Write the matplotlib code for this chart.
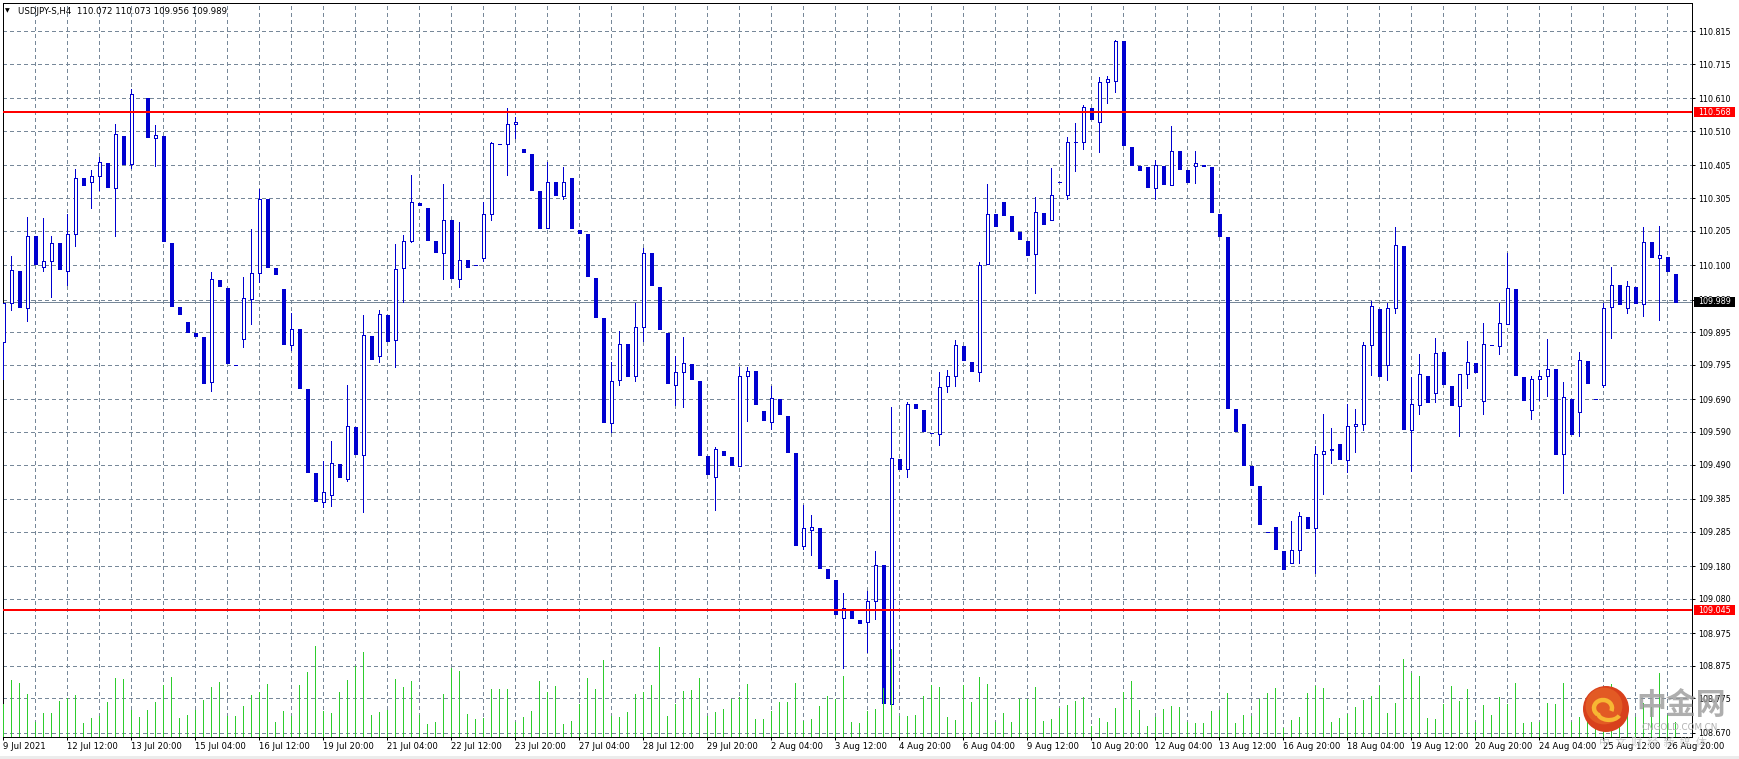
import matplotlib
matplotlib.use("Agg")
import matplotlib.pyplot as plt
import numpy as np
from matplotlib.patches import Rectangle, Ellipse, Arc

# ---------------- data ----------------
title_text = "USDJPY-S,H4  110.072 110.073 109.956 109.989"

opens = [109.865, 109.983, 110.081, 109.970, 110.189, 110.095, 110.113, 110.167, 110.081, 110.196,
         110.366, 110.355, 110.373, 110.412, 110.337, 110.496, 110.411, 110.568, 110.611, 110.490,
         110.496, 110.167, 109.971, 109.927, 109.894, 109.879, 109.742, 110.055, 110.030, 109.795,
         109.873, 109.997, 110.075, 110.303, 110.091, 110.028, 109.857, 109.905, 109.722, 109.463,
         109.375, 109.396, 109.493, 109.447, 109.604, 109.519, 109.885, 109.822, 109.948, 109.871,
         110.090, 110.173, 110.291, 110.275, 110.175, 110.136, 110.239, 110.059, 110.116, 110.100,
         110.123, 110.258, 110.472, 110.471, 110.532, 110.456, 110.441, 110.326, 110.215, 110.353,
         110.311, 110.366, 110.209, 110.195, 110.061, 109.938, 109.617, 109.748, 109.859, 109.760,
         109.912, 110.137, 110.033, 109.892, 109.735, 109.773, 109.797, 109.747, 109.516, 109.451,
         109.533, 109.513, 109.486, 109.762, 109.775, 109.653, 109.620, 109.690, 109.638, 109.525,
         109.241, 109.290, 109.296, 109.170, 109.137, 109.022, 109.050, 109.016, 109.010, 109.072,
         109.182, 108.758, 109.507, 109.476, 109.676, 109.656, 109.588, 109.584, 109.731, 109.760,
         109.852, 109.803, 109.774, 110.105, 110.257, 110.293, 110.250, 110.201, 110.175, 110.133,
         110.261, 110.239, 110.355, 110.316, 110.477, 110.477, 110.581, 110.538, 110.660, 110.663,
         110.786, 110.463, 110.402, 110.401, 110.335, 110.404, 110.346, 110.448, 110.392, 110.404,
         110.408, 110.399, 110.258, 110.186, 109.659, 109.615, 109.487, 109.425, 109.285, 109.300,
         109.226, 109.190, 109.228, 109.330, 109.296, 109.522, 109.536, 109.552, 109.505, 109.607,
         109.613, 109.855, 109.967, 109.794, 109.970, 110.159, 109.595, 109.672, 109.762, 109.709,
         109.835, 109.732, 109.669, 109.767, 109.800, 109.685, 109.856, 109.853, 109.921, 110.028,
         109.757, 109.656, 109.752, 109.760, 109.783, 109.522, 109.690, 109.650, 109.806, 109.690,
         109.735, 109.973, 110.041, 109.969, 110.033, 109.980, 110.170, 110.123, 110.124, 110.072]

highs = [109.985, 110.127, 110.081, 110.247, 110.189, 110.244, 110.189, 110.167, 110.257, 110.394,
         110.366, 110.391, 110.430, 110.412, 110.532, 110.496, 110.639, 110.568, 110.611, 110.528,
         110.496, 110.167, 109.971, 109.927, 109.894, 109.879, 110.079, 110.055, 110.030, 109.795,
         110.064, 110.211, 110.333, 110.303, 110.091, 110.028, 109.954, 109.905, 109.722, 109.463,
         109.502, 109.562, 109.493, 109.735, 109.604, 109.948, 109.885, 109.963, 109.948, 110.166,
         110.192, 110.376, 110.291, 110.275, 110.175, 110.347, 110.239, 110.232, 110.116, 110.100,
         110.294, 110.477, 110.472, 110.581, 110.554, 110.456, 110.441, 110.326, 110.415, 110.353,
         110.401, 110.366, 110.209, 110.195, 110.061, 109.938, 109.803, 109.899, 109.859, 109.984,
         110.152, 110.137, 110.033, 109.892, 109.823, 109.881, 109.797, 109.747, 109.516, 109.543,
         109.533, 109.513, 109.788, 109.788, 109.775, 109.653, 109.732, 109.690, 109.638, 109.525,
         109.366, 109.336, 109.296, 109.170, 109.137, 109.097, 109.050, 109.016, 109.104, 109.226,
         109.182, 109.667, 109.507, 109.682, 109.676, 109.656, 109.588, 109.773, 109.780, 109.872,
         109.852, 109.803, 110.110, 110.347, 110.257, 110.293, 110.250, 110.201, 110.175, 110.309,
         110.261, 110.396, 110.355, 110.492, 110.535, 110.590, 110.581, 110.675, 110.679, 110.788,
         110.786, 110.463, 110.402, 110.401, 110.422, 110.404, 110.525, 110.448, 110.392, 110.448,
         110.408, 110.399, 110.258, 110.186, 109.659, 109.615, 109.487, 109.425, 109.285, 109.300,
         109.226, 109.319, 109.345, 109.330, 109.548, 109.646, 109.602, 109.552, 109.676, 109.659,
         109.866, 109.990, 109.967, 109.984, 110.218, 110.159, 109.757, 109.827, 109.762, 109.878,
         109.835, 109.732, 109.767, 109.868, 109.800, 109.924, 109.856, 109.983, 110.137, 110.028,
         109.757, 109.760, 109.781, 109.875, 109.783, 109.742, 109.690, 109.834, 109.806, 109.690,
         109.983, 110.094, 110.041, 110.051, 110.033, 110.216, 110.170, 110.219, 110.124, 110.073]

lows = [109.752, 109.963, 109.973, 109.930, 110.105, 110.081, 110.002, 110.087, 110.041, 110.160,
        110.346, 110.275, 110.329, 110.340, 110.189, 110.409, 110.398, 110.568, 110.491, 110.404,
        110.175, 109.976, 109.951, 109.897, 109.882, 109.739, 109.716, 110.035, 109.800, 109.795,
        109.850, 109.919, 110.049, 110.095, 110.074, 109.860, 109.840, 109.725, 109.467, 109.378,
        109.360, 109.363, 109.451, 109.440, 109.522, 109.346, 109.814, 109.804, 109.869, 109.790,
        109.989, 110.170, 110.284, 110.177, 110.139, 110.059, 110.062, 110.032, 110.095, 110.100,
        110.113, 110.237, 110.472, 110.376, 110.490, 110.447, 110.330, 110.215, 110.213, 110.314,
        110.304, 110.215, 110.200, 110.067, 109.941, 109.620, 109.590, 109.735, 109.761, 109.745,
        109.869, 110.038, 109.904, 109.741, 109.673, 109.667, 109.751, 109.519, 109.461, 109.350,
        109.519, 109.489, 109.485, 109.623, 109.677, 109.626, 109.598, 109.644, 109.530, 109.244,
        109.231, 109.215, 109.175, 109.144, 109.032, 108.869, 109.022, 109.007, 108.917, 109.019,
        108.761, 108.755, 109.476, 109.451, 109.662, 109.594, 109.588, 109.549, 109.713, 109.732,
        109.809, 109.775, 109.745, 110.105, 110.221, 110.254, 110.206, 110.180, 110.131, 110.015,
        110.226, 110.239, 110.355, 110.303, 110.388, 110.454, 110.548, 110.445, 110.597, 110.631,
        110.469, 110.405, 110.392, 110.340, 110.304, 110.349, 110.346, 110.395, 110.355, 110.350,
        110.402, 110.262, 110.188, 109.664, 109.594, 109.490, 109.428, 109.307, 109.285, 109.231,
        109.172, 109.190, 109.190, 109.296, 109.160, 109.399, 109.494, 109.507, 109.469, 109.530,
        109.595, 109.765, 109.762, 109.748, 109.953, 109.598, 109.471, 109.646, 109.683, 109.683,
        109.738, 109.672, 109.577, 109.724, 109.773, 109.646, 109.856, 109.829, 109.921, 109.764,
        109.688, 109.631, 109.689, 109.699, 109.523, 109.402, 109.584, 109.577, 109.741, 109.690,
        109.728, 109.876, 109.980, 109.953, 109.983, 109.944, 110.124, 109.931, 110.081, 109.989]

closes = [109.983, 110.084, 109.973, 110.189, 110.105, 110.113, 110.169, 110.087, 110.196, 110.368,
          110.346, 110.373, 110.417, 110.340, 110.502, 110.409, 110.624, 110.568, 110.491, 110.499,
          110.175, 109.976, 109.951, 109.897, 109.882, 109.739, 110.058, 110.035, 109.800, 109.795,
          109.999, 110.077, 110.303, 110.095, 110.074, 109.860, 109.906, 109.725, 109.467, 109.378,
          109.407, 109.494, 109.451, 109.607, 109.522, 109.888, 109.814, 109.950, 109.869, 110.087,
          110.175, 110.294, 110.284, 110.177, 110.139, 110.239, 110.062, 110.117, 110.095, 110.100,
          110.258, 110.473, 110.472, 110.532, 110.539, 110.447, 110.330, 110.215, 110.355, 110.314,
          110.355, 110.215, 110.200, 110.067, 109.941, 109.620, 109.745, 109.860, 109.761, 109.912,
          110.136, 110.038, 109.904, 109.741, 109.773, 109.800, 109.751, 109.519, 109.461, 109.538,
          109.519, 109.489, 109.762, 109.775, 109.677, 109.626, 109.693, 109.644, 109.530, 109.244,
          109.296, 109.298, 109.175, 109.144, 109.032, 109.053, 109.022, 109.007, 109.072, 109.183,
          108.761, 109.510, 109.476, 109.675, 109.662, 109.594, 109.588, 109.729, 109.760, 109.855,
          109.809, 109.775, 110.101, 110.258, 110.221, 110.254, 110.206, 110.180, 110.131, 110.264,
          110.226, 110.316, 110.355, 110.477, 110.478, 110.584, 110.548, 110.660, 110.669, 110.786,
          110.469, 110.405, 110.392, 110.340, 110.407, 110.349, 110.450, 110.395, 110.355, 110.412,
          110.402, 110.262, 110.188, 109.664, 109.594, 109.490, 109.428, 109.307, 109.285, 109.231,
          109.172, 109.229, 109.333, 109.296, 109.522, 109.533, 109.537, 109.507, 109.607, 109.614,
          109.855, 109.974, 109.762, 109.970, 110.163, 109.598, 109.675, 109.767, 109.683, 109.833,
          109.738, 109.672, 109.767, 109.803, 109.773, 109.858, 109.856, 109.922, 110.029, 109.764,
          109.688, 109.752, 109.761, 109.784, 109.523, 109.696, 109.584, 109.809, 109.741, 109.690,
          109.970, 110.041, 109.980, 110.035, 109.983, 110.172, 110.124, 110.130, 110.081, 109.989]

volumes = [33, 57, 54, 43, 15, 24, 24, 36, 39, 42, 14, 19, 21, 35, 59, 58, 27, 20, 27, 35,
           52, 60, 19, 22, 27, 37, 50, 55, 21, 21, 31, 42, 45, 53, 15, 26, 21, 52, 65, 91,
           26, 24, 45, 57, 71, 85, 22, 25, 27, 58, 50, 56, 22, 13, 15, 43, 69, 66, 23, 18,
           19, 48, 48, 48, 15, 20, 26, 56, 45, 51, 13, 16, 33, 59, 48, 77, 21, 20, 25, 43,
           45, 52, 90, 21, 33, 46, 47, 59, 21, 25, 28, 38, 40, 53, 18, 18, 26, 35, 35, 54,
           16, 18, 31, 41, 38, 61, 15, 14, 26, 28, 49, 88, 21, 21, 22, 41, 52, 50, 20, 17,
           52, 35, 60, 53, 15, 24, 15, 38, 38, 50, 16, 18, 29, 32, 36, 40, 11, 19, 15, 29,
           45, 56, 27, 11, 20, 28, 31, 30, 15, 14, 14, 26, 27, 44, 14, 22, 21, 38, 44, 49,
           9, 17, 20, 44, 51, 49, 15, 19, 23, 30, 37, 41, 51, 24, 34, 78, 64, 61, 19, 18,
           33, 51, 36, 48, 15, 32, 22, 40, 33, 54, 14, 15, 15, 34, 33, 54, 15, 20, 25, 18,
           30, 53, 20, 28, 20, 34, 30, 64, 22, 15]

x_tick_labels = ["9 Jul 2021", "12 Jul 12:00", "13 Jul 20:00", "15 Jul 04:00", "16 Jul 12:00",
                 "19 Jul 20:00", "21 Jul 04:00", "22 Jul 12:00", "23 Jul 20:00", "27 Jul 04:00",
                 "28 Jul 12:00", "29 Jul 20:00", "2 Aug 04:00", "3 Aug 12:00", "4 Aug 20:00",
                 "6 Aug 04:00", "9 Aug 12:00", "10 Aug 20:00", "12 Aug 04:00", "13 Aug 12:00",
                 "16 Aug 20:00", "18 Aug 04:00", "19 Aug 12:00", "20 Aug 20:00", "24 Aug 04:00",
                 "25 Aug 12:00", "26 Aug 20:00"]

y_tick_values = [110.815, 110.715, 110.610, 110.510, 110.405, 110.305, 110.205, 110.100, 109.995,
                 109.895, 109.795, 109.690, 109.590, 109.490, 109.385, 109.285, 109.180, 109.080,
                 108.975, 108.875, 108.775, 108.670]

resistance_level = 110.568
support_level = 109.045
bid_price = 109.989

# ---------------- styling ----------------
W, H = 1740, 759
PX = 0.72  # points per pixel at dpi 100
BLUE = "#0000d0"
GRID = "#778899"
VOLC = "#2ecc2e"

fig = plt.figure(figsize=(W / 100, H / 100), dpi=100)
fig.patch.set_facecolor("white")
ax_l, ax_r, ax_t, ax_b = 3, 1692, 3, 737
ax = fig.add_axes([ax_l / W, (H - ax_b) / H, (ax_r - ax_l) / W, (ax_b - ax_t) / H])
ax.set_facecolor("white")

o = np.array(opens)
h = np.array(highs)
l = np.array(lows)
c = np.array(closes)
n = len(o)
xs = np.arange(n)

xlim = (-0.05, -0.05 + (ax_r - ax_l) / 8.0)
ax.set_xlim(*xlim)
ax.set_ylim(108.657, 110.902)

# grid
for yv in y_tick_values:
    ax.axhline(yv, color=GRID, lw=PX, ls=(0, (3, 3)), zorder=1, antialiased=False)
for xv in range(4, n, 4):
    ax.axvline(xv, color=GRID, lw=PX, ls=(0, (3, 3)), zorder=1, antialiased=False)

# bid line
ax.axhline(bid_price, color=GRID, lw=PX, zorder=1.5, antialiased=False)

# candles
ax.vlines(xs, l, h, color=BLUE, lw=PX, zorder=3, antialiased=False)
bull = c >= o
ax.bar(xs[bull], (c - o)[bull], bottom=o[bull], width=0.40, facecolor="white",
       edgecolor=BLUE, linewidth=PX, zorder=4, antialiased=False)
ax.bar(xs[~bull], (o - c)[~bull], bottom=c[~bull], width=0.30, facecolor=BLUE,
       edgecolor=BLUE, linewidth=PX, zorder=4, antialiased=False)

# horizontal levels
ax.axhline(resistance_level, color="#ff0000", lw=PX * 2, zorder=6)
ax.axhline(support_level, color="#ff0000", lw=PX * 2, zorder=6)

# volumes (tick volume histogram) on a twin axis
ax2 = ax.twinx()
ax2.set_ylim(0, ax_b - ax_t)
ax2.vlines(xs, 0, volumes, color=VOLC, lw=PX, zorder=5, antialiased=False)
ax2.set_yticks([])
ax2.tick_params(axis="y", left=False, right=False, labelleft=False, labelright=False)
for s in ax2.spines.values():
    s.set_visible(False)
ax2.set_xlim(*xlim)

# axes formatting (after twinx, which moves ax's ticks to the left)
for s in ax.spines.values():
    s.set_color("black")
    s.set_linewidth(PX)
ax.set_yticks(y_tick_values)
ax.set_yticklabels([f"{v:.3f}" for v in y_tick_values])
ax.yaxis.set_ticks_position("right")
ax.yaxis.set_label_position("right")
ax.tick_params(axis="y", which="both", direction="out", length=3 * PX, width=PX,
               labelsize=5.8, pad=2.5, colors="black", left=False, right=True,
               labelleft=False, labelright=True)
ax.set_xticks(list(range(0, n, 8)))
ax.set_xticklabels(x_tick_labels, ha="left")
ax.tick_params(axis="x", direction="out", length=3 * PX, width=PX, labelsize=6.1,
               pad=1.5, colors="black")

# price boxes on the right axis
yr = ax.get_ylim()
box_h = 10 * (yr[1] - yr[0]) / (ax_b - ax_t)
bx0 = 1 + 2 / (ax_r - ax_l)
bw = 41 / (ax_r - ax_l)
ytrans = ax.get_yaxis_transform()
for level, fc in [(resistance_level, "#ff0000"), (support_level, "#ff0000"), (bid_price, "black")]:
    ax2.add_patch(Rectangle((bx0, level - box_h / 2), bw, box_h, transform=ytrans,
                            facecolor=fc, edgecolor="none", clip_on=False, zorder=10))
    ax2.text(bx0 + bw / 2, level, f"{level:.3f}", transform=ytrans, ha="center",
             va="center", color="white", fontsize=5.8, clip_on=False, zorder=11)

# title
fig.text(7.5 / W, 1 - 11 / H, "\u25BC", fontsize=4.5, ha="center", va="center", color="black")
fig.text(18 / W, 1 - 11 / H, title_text, fontsize=6.2, ha="left", va="center", color="black")

# watermark logo (中金网)
cx, cy, r = 1606, 709, 23
fig.patches.append(Ellipse((cx / W, 1 - cy / H), 2 * r / W, 2 * r / H, transform=fig.transFigure,
                           facecolor="#d8401c", edgecolor="none", zorder=20))
fig.patches.append(Ellipse(((cx - 2) / W, 1 - (cy - 3) / H), 1.6 * r / W, 1.6 * r / H,
                           transform=fig.transFigure, facecolor="#e25a24", edgecolor="none", zorder=20))
fig.patches.append(Arc(((cx - 3) / W, 1 - (cy - 1) / H), 18 / W, 16 / H, theta1=-40, theta2=250,
                       transform=fig.transFigure, color="#f7b733", lw=3.2, zorder=21))
fig.patches.append(Arc(((cx + 3) / W, 1 - (cy + 4) / H), 22 / W, 14 / H, theta1=180, theta2=330,
                       transform=fig.transFigure, color="#f7b733", lw=3.0, zorder=21))
fig.text(1681 / W, 1 - 705 / H, "中金网", fontsize=21.5, fontweight="bold",
         family=["Noto Sans CJK SC", "DejaVu Sans"], color="#9a9a9a", alpha=0.8,
         ha="center", va="center", zorder=22)
fig.text(1680 / W, 1 - 727 / H, "CNGOLD.COM.CN", fontsize=6.3, color="#b0b0b0",
         ha="center", va="center", zorder=22)
fig.text(1653 / W, 1 - 742 / H, "中  文  财  经  新  媒  体", fontsize=8,
         family=["Noto Sans CJK SC", "DejaVu Sans"], color="#c4c4c4", alpha=0.85,
         ha="center", va="center", zorder=22)

# thin grey strip at the very bottom
fig.patches.append(Rectangle((0, 0), 1, 3 / H, transform=fig.transFigure,
                             facecolor="#ececec", edgecolor="none", zorder=0))

fig.savefig("out.png", dpi=100, facecolor="white")
